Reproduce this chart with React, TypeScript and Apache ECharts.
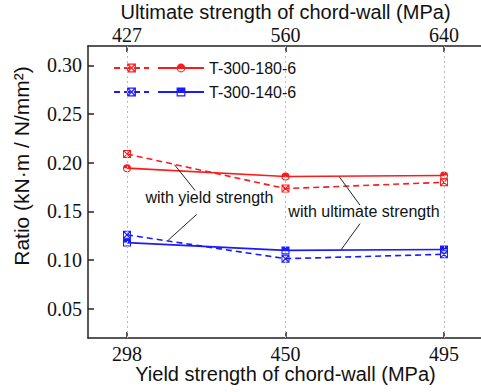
import React, { useEffect, useRef } from "react";
import * as echarts from "echarts";

const yieldLabels = ["298", "450", "495"];
const ultimateLabels = ["427", "560", "640"];
const xIndex = [0, 1, 2];
const yTicks = [0.05, 0.1, 0.15, 0.2, 0.25, 0.3];

const redSolid = [0.1945, 0.186, 0.187];
const redDashed = [0.209, 0.1735, 0.18];
const blueSolid = [0.118, 0.11, 0.111];
const blueDashed = [0.126, 0.1015, 0.106];

const seriesNames = ["T-300-180-6", "T-300-140-6"];

// annotation arrows in data units: [fromX, fromY, toX, toY]
const arrows = [
  [0.43, 0.1715, 0.3, 0.198],
  [0.44, 0.147, 0.26, 0.1205],
  [1.47, 0.1565, 1.34, 0.1855],
  [1.47, 0.1375, 1.35, 0.1105],
];
const notes = [
  { text: "with yield strength", x: 0.52, y: 0.1645 },
  { text: "with ultimate strength", x: 1.495, y: 0.15 },
];

const HALF_CIRCLE =
  "path://M-5,0 A5,5 0 0 1 5,0 A5,5 0 0 1 -5,0 Z M3.8,0 L-3.8,0 A3.8,3.8 0 0 0 3.8,0 Z";
const HALF_SQUARE =
  "path://M0,0 L10,0 L10,10 L0,10 Z M1.3,5 L1.3,8.7 L8.7,8.7 L8.7,5 Z";
const CROSS_SQUARE =
  "path://M0,0 L10,0 L10,10 L0,10 Z M1.2,1.2 L1.2,8.8 L8.8,8.8 L8.8,1.2 Z M0,0 L1,0 L10,9 L10,10 L9,10 L0,1 Z M10,0 L10,1 L1,10 L0,10 L0,9 L9,0 Z";
const ARROW_HEAD = "path://M0,0 L3.5,12 L-3.5,12 Z";

const RED = "#ff1a1a";
const BLUE = "#1a1aff";
const AXIS = "#222";
const SANS = "Liberation Sans, Arial, sans-serif";
const SERIF = "Liberation Serif, Times New Roman, serif";

const toPts = (vals: number[]) => vals.map((v, i) => [xIndex[i], v]);

export default function App() {
  const ref = useRef<HTMLDivElement>(null);
  useEffect(() => {
    if (!ref.current) return;
    const chart = echarts.init(ref.current, undefined, { renderer: "svg" });
    const xMin = -0.246;
    const xMax = 2.246;
    const mkSeries = (
      name: string,
      data: number[],
      color: string,
      dashed: boolean,
      symbol: string
    ) => ({
      name,
      type: "line",
      data: toPts(data),
      symbol,
      symbolSize: 8,
      itemStyle: { color, borderWidth: 0 },
      lineStyle: { color, width: 1.6, type: dashed ? [6, 4] : "solid" },
      z: dashed ? 3 : 4,
    });
    const option: any = {
      animation: false,
      grid: { left: 88, right: -2, top: 46, bottom: 54, outerBoundsMode: "none" },
      legend: [
        {
          orient: "vertical",
          left: 113,
          top: 60,
          padding: 0,
          itemWidth: 35,
          itemHeight: 11,
          itemGap: 8,
          data: [seriesNames[0] + " ", seriesNames[1] + " "],
          formatter: () => " ",
          textStyle: { fontSize: 16, fontFamily: SANS },
          selectedMode: false,
        },
        {
          orient: "vertical",
          left: 157,
          top: 60,
          padding: 0,
          itemWidth: 46,
          itemHeight: 11,
          itemGap: 8,
          data: seriesNames,
          textStyle: { fontSize: 16, fontFamily: SANS, color: "#111" },
          selectedMode: false,
        },
      ],
      xAxis: [
        {
          type: "value",
          position: "bottom",
          min: xMin,
          max: xMax,
          name: "Yield strength of chord-wall (MPa)",
          nameLocation: "middle",
          nameGap: 26,
          nameMoveOverlap: false,
          nameTextStyle: { fontSize: 20, fontFamily: SANS, color: "#111" },
          axisLine: { show: true, onZero: false, lineStyle: { color: AXIS, width: 1.5 } },
          axisTick: { show: true, inside: true, length: 6, customValues: xIndex, lineStyle: { color: AXIS, width: 1.5 } },
          axisLabel: {
            customValues: xIndex,
            formatter: (v: number) => yieldLabels[Math.round(v)],
            fontSize: 20,
            fontFamily: SERIF,
            color: "#111",
            margin: 6,
          },
          splitLine: { show: false },
        },
        {
          type: "value",
          position: "top",
          min: xMin,
          max: xMax,
          name: "Ultimate strength of chord-wall (MPa)",
          nameLocation: "middle",
          nameGap: 24,
          nameMoveOverlap: false,
          nameTextStyle: { fontSize: 20, fontFamily: SANS, color: "#111" },
          axisLine: { show: true, onZero: false, lineStyle: { color: AXIS, width: 1.5 } },
          axisTick: { show: true, inside: true, length: 6, customValues: xIndex, lineStyle: { color: AXIS, width: 1.5 } },
          axisLabel: {
            customValues: xIndex,
            formatter: (v: number) => ultimateLabels[Math.round(v)],
            fontSize: 20,
            fontFamily: SERIF,
            color: "#111",
            margin: 1,
          },
          splitLine: { show: false },
        },
      ],
      yAxis: {
        type: "value",
        min: 0.02,
        max: 0.32,
        name: "Ratio (kN·m / N/mm²)",
        nameLocation: "middle",
        nameGap: 56,
        nameMoveOverlap: false,
        nameTextStyle: { fontSize: 21, fontFamily: SANS, color: "#111", padding: [0, 0, 0, 52] },
        axisLine: { show: true, onZero: false, lineStyle: { color: AXIS, width: 1.5 } },
        axisTick: { show: true, inside: true, length: 6, customValues: yTicks, lineStyle: { color: AXIS, width: 1.5 } },
        axisLabel: {
          customValues: yTicks,
          formatter: (v: number) => v.toFixed(2),
          fontSize: 20,
          fontFamily: SERIF,
          color: "#111",
          margin: 6,
        },
        splitLine: { show: false },
      },
      series: [
        {
          name: "grid",
          type: "line",
          data: [],
          silent: true,
          markLine: {
            silent: true,
            symbol: "none",
            label: { show: false },
            lineStyle: { color: "#bbb", width: 1, type: [2, 3] },
            data: xIndex.map((x) => ({ xAxis: x })),
          },
          z: 1,
        },
        mkSeries(seriesNames[0] + " ", redDashed, RED, true, CROSS_SQUARE),
        mkSeries(seriesNames[0], redSolid, RED, false, HALF_CIRCLE),
        mkSeries(seriesNames[1] + " ", blueDashed, BLUE, true, CROSS_SQUARE),
        mkSeries(seriesNames[1], blueSolid, BLUE, false, HALF_SQUARE),
        {
          name: "notes",
          type: "line",
          data: [],
          silent: true,
          z: 6,
          markLine: {
            silent: true,
            symbol: ["none", ARROW_HEAD],
            symbolSize: [0, 10],
            label: { show: false },
            lineStyle: { color: "#222", width: 1, type: "solid" },
            data: arrows.map((a) => [{ coord: [a[0], a[1]] }, { coord: [a[2], a[3]] }]),
          },
          markPoint: {
            silent: true,
            symbol: "circle",
            symbolSize: 1,
            itemStyle: { color: "rgba(0,0,0,0)" },
            label: {
              show: true,
              position: "inside",
              fontSize: 16,
              fontFamily: SANS,
              color: "#111",
              formatter: (p: any) => p.name,
            },
            data: notes.map((n) => ({ name: n.text, coord: [n.x, n.y] })),
          },
        },
      ],
    };
    chart.setOption(option);
    return () => chart.dispose();
  }, []);
  return (
    <div
      ref={ref}
      style={{ position: "fixed", left: 0, top: 0, width: 481, height: 392, background: "#fff" }}
    />
  );
}
